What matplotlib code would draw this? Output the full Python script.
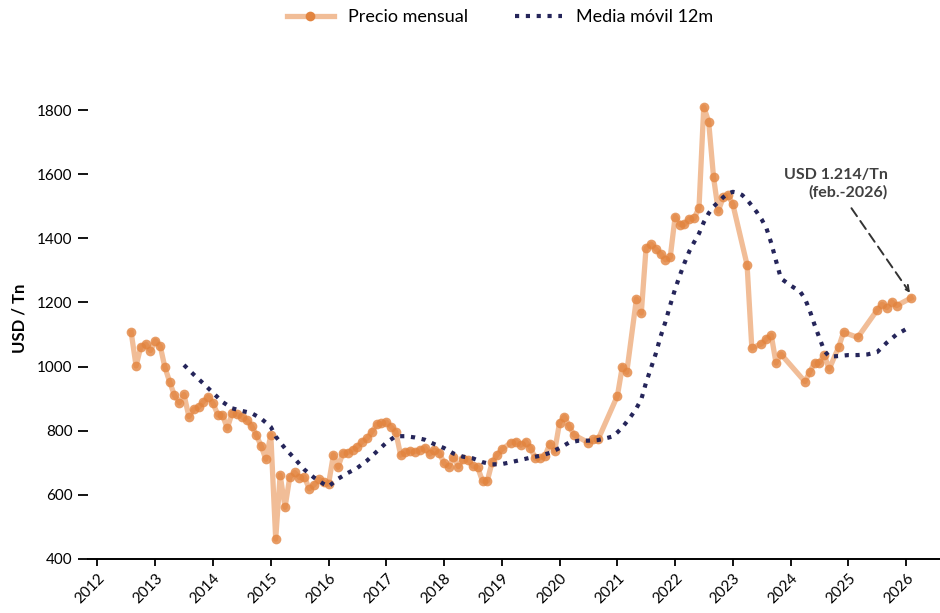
import matplotlib
matplotlib.use("Agg")
import matplotlib.pyplot as plt
import pandas as pd

# precio mensual (USD/Tn); meses faltantes no se dibujan
precio_meses = [
    "2012-08", "2012-09", "2012-10", "2012-11", "2012-12",
    "2013-01", "2013-02", "2013-03", "2013-04", "2013-05", "2013-06",
    "2013-07", "2013-08", "2013-09", "2013-10", "2013-11", "2013-12",
    "2014-01", "2014-02", "2014-03", "2014-04", "2014-05", "2014-06",
    "2014-07", "2014-08", "2014-09", "2014-10", "2014-11", "2014-12",
    "2015-01", "2015-02", "2015-03", "2015-04", "2015-05", "2015-06",
    "2015-07", "2015-08", "2015-09", "2015-10", "2015-11", "2015-12",
    "2016-01", "2016-02", "2016-03", "2016-04", "2016-05", "2016-06",
    "2016-07", "2016-08", "2016-09", "2016-10", "2016-11", "2016-12",
    "2017-01", "2017-02", "2017-03", "2017-04", "2017-05", "2017-06",
    "2017-07", "2017-08", "2017-09", "2017-10", "2017-11", "2017-12",
    "2018-01", "2018-02", "2018-03", "2018-04", "2018-05", "2018-06",
    "2018-07", "2018-08", "2018-09", "2018-10", "2018-11", "2018-12",
    "2019-01", "2019-03", "2019-04", "2019-05", "2019-06",
    "2019-07", "2019-08", "2019-09", "2019-10", "2019-11", "2019-12",
    "2020-01", "2020-02", "2020-03", "2020-04",
    "2020-07", "2020-08", "2020-09",
    "2021-01", "2021-02", "2021-03", "2021-05", "2021-06",
    "2021-07", "2021-08", "2021-09", "2021-10", "2021-11", "2021-12",
    "2022-01", "2022-02", "2022-03", "2022-04", "2022-05", "2022-06",
    "2022-07", "2022-08", "2022-09", "2022-10", "2022-11", "2022-12",
    "2023-01", "2023-04", "2023-05",
    "2023-07", "2023-08", "2023-09", "2023-10", "2023-11",
    "2024-04", "2024-05", "2024-06",
    "2024-07", "2024-08", "2024-09", "2024-11", "2024-12",
    "2025-03",
    "2025-07", "2025-08", "2025-09", "2025-10", "2025-11",
    "2026-02",
]
precio = [
    1107, 1002, 1062, 1070, 1050,
    1081, 1064, 1000, 953, 911, 887,
    913, 844, 867, 873, 891, 906,
    885, 849, 849, 808, 855, 851,
    844, 833, 815, 787, 752, 711,
    787, 462, 662, 561, 655, 670,
    654, 656, 619, 631, 649, 640,
    633, 725, 686, 731, 732, 741,
    750, 766, 776, 797, 820, 823,
    827, 811, 797, 724, 735, 737,
    735, 740, 747, 727, 740, 732,
    698, 688, 719, 688, 712, 709,
    690, 686, 643, 643, 703, 724,
    742, 763, 766, 755, 766,
    747, 714, 716, 721, 760, 736,
    825, 844, 815, 787,
    763, 773, 773,
    909, 1000, 982, 1211, 1167,
    1369, 1382, 1367, 1352, 1333, 1341,
    1468, 1443, 1444, 1461, 1462, 1496,
    1810, 1764, 1590, 1485, 1528, 1535,
    1506, 1317, 1058,
    1071, 1086, 1098, 1011, 1039,
    953, 983, 1012,
    1012, 1037, 992, 1062, 1107,
    1091,
    1176, 1194, 1184, 1202, 1190,
    1214,
]

# media movil 12m
media_meses = [
    "2013-07", "2013-09", "2013-11", "2014-01", "2014-03", "2014-05",
    "2014-07", "2014-09", "2014-11", "2015-01", "2015-02", "2015-04",
    "2015-06", "2015-08", "2015-10", "2015-12", "2016-01", "2016-03",
    "2016-05", "2016-07", "2016-09", "2016-11", "2017-01", "2017-03",
    "2017-05", "2017-07", "2017-09", "2017-11", "2018-01", "2018-03",
    "2018-05", "2018-07", "2018-09", "2018-11", "2019-01", "2019-03",
    "2019-05", "2019-07", "2019-09", "2019-11", "2020-01", "2020-03",
    "2020-05", "2020-07", "2020-09", "2020-11", "2020-12", "2021-01",
    "2021-02", "2021-03", "2021-04", "2021-05", "2021-06", "2021-07",
    "2021-08", "2021-09", "2021-10", "2021-11", "2021-12", "2022-01",
    "2022-02", "2022-03", "2022-04", "2022-05", "2022-06", "2022-07",
    "2022-08", "2022-09", "2022-10", "2022-11", "2022-12", "2023-01",
    "2023-02", "2023-03", "2023-04", "2023-05", "2023-06", "2023-07",
    "2023-08", "2023-09", "2023-10", "2023-11", "2024-01", "2024-03",
    "2024-04", "2024-05", "2024-06", "2024-07", "2024-08", "2024-09",
    "2024-11", "2025-01", "2025-03", "2025-05", "2025-07", "2025-09",
    "2025-11", "2026-01",
]
media = [
    1005, 975, 947, 918, 890, 870,
    862, 855, 838, 812, 782, 745,
    713, 679, 654, 634, 626, 650,
    668, 684, 707, 735, 763, 783,
    783, 779, 772, 758, 746, 729,
    719, 714, 702, 695, 696, 702,
    709, 716, 722, 731, 746, 763,
    769, 769, 771, 778, 782, 795,
    810, 828, 848, 870, 898, 950,
    995, 1041, 1094, 1140, 1192, 1242,
    1286, 1323, 1360, 1388, 1415, 1450,
    1478, 1499, 1513, 1528, 1540, 1545,
    1542, 1535, 1520, 1502, 1482, 1460,
    1432, 1385, 1330, 1275, 1253, 1234,
    1212, 1175, 1130, 1090, 1050, 1031,
    1033, 1036, 1036, 1038, 1045, 1075,
    1100, 1117,
]

anios = list(range(2012, 2027))

plt.rcParams['font.family'] = ['Lato', 'DejaVu Sans']

x_precio = pd.to_datetime(precio_meses)
x_media = pd.to_datetime(media_meses)

fig = plt.figure(figsize=(9.4, 6.13), dpi=100)
ax = fig.add_axes([88 / 940, 54 / 613, 852 / 940, 481 / 613])

ax.plot(x_precio, precio, color='#f1bd97', lw=3.8, zorder=2)
ax.plot(x_precio, precio, linestyle='none', marker='o', markersize=7,
        markerfacecolor='#e2843f', markeredgewidth=0, alpha=0.8, zorder=2)
# entrada de leyenda combinada
ax.plot([], [], color='#f1bd97', lw=3.8, marker='o', markersize=7,
        markerfacecolor='#e2843f', markeredgewidth=0, label='Precio mensual')
ax.plot(x_media, media, color='#25255a', lw=3, linestyle=(0, (1, 1.6)),
        zorder=3, label='Media móvil 12m')

ax.set_ylim(400, 1900)
ax.set_yticks(range(400, 1801, 200))
ax.set_xlim(pd.Timestamp('2011-11-02'), pd.Timestamp('2026-08-03'))
ax.set_xticks(pd.to_datetime([f'{a}-01-01' for a in anios]))
ax.set_xticklabels([str(a) for a in anios], rotation=45, ha='right',
                   rotation_mode='anchor')

for s in ['top', 'right', 'left']:
    ax.spines[s].set_visible(False)
ax.spines['bottom'].set_linewidth(1.4)
ax.tick_params(axis='y', length=7, width=1.3, pad=4, labelsize=11)
ax.tick_params(axis='x', length=5, width=1.3, pad=4, labelsize=11)

ax.set_ylabel('USD / Tn', fontsize=12, fontweight='bold')
ax.yaxis.set_label_coords(-0.071, 0.5)

ax.annotate('', xy=(pd.Timestamp('2026-01-25'), 1230),
            xytext=(pd.Timestamp('2025-01-20'), 1494),
            arrowprops=dict(arrowstyle='->', color='#333333', lw=1.4,
                            linestyle=(0, (5, 3)), shrinkA=0, shrinkB=0))
ax.text(pd.Timestamp('2025-09-05'), 1522, 'USD 1.214/Tn\n(feb.-2026)',
        ha='right', va='bottom', multialignment='right', fontsize=11.5,
        fontweight='bold', color='#404040')

fig.legend(loc='center', bbox_to_anchor=(0.532, 1 - 17 / 613), ncol=2,
           frameon=False, fontsize=13, handlelength=2.6, columnspacing=2.6)

fig.savefig('out.png', dpi=100)
